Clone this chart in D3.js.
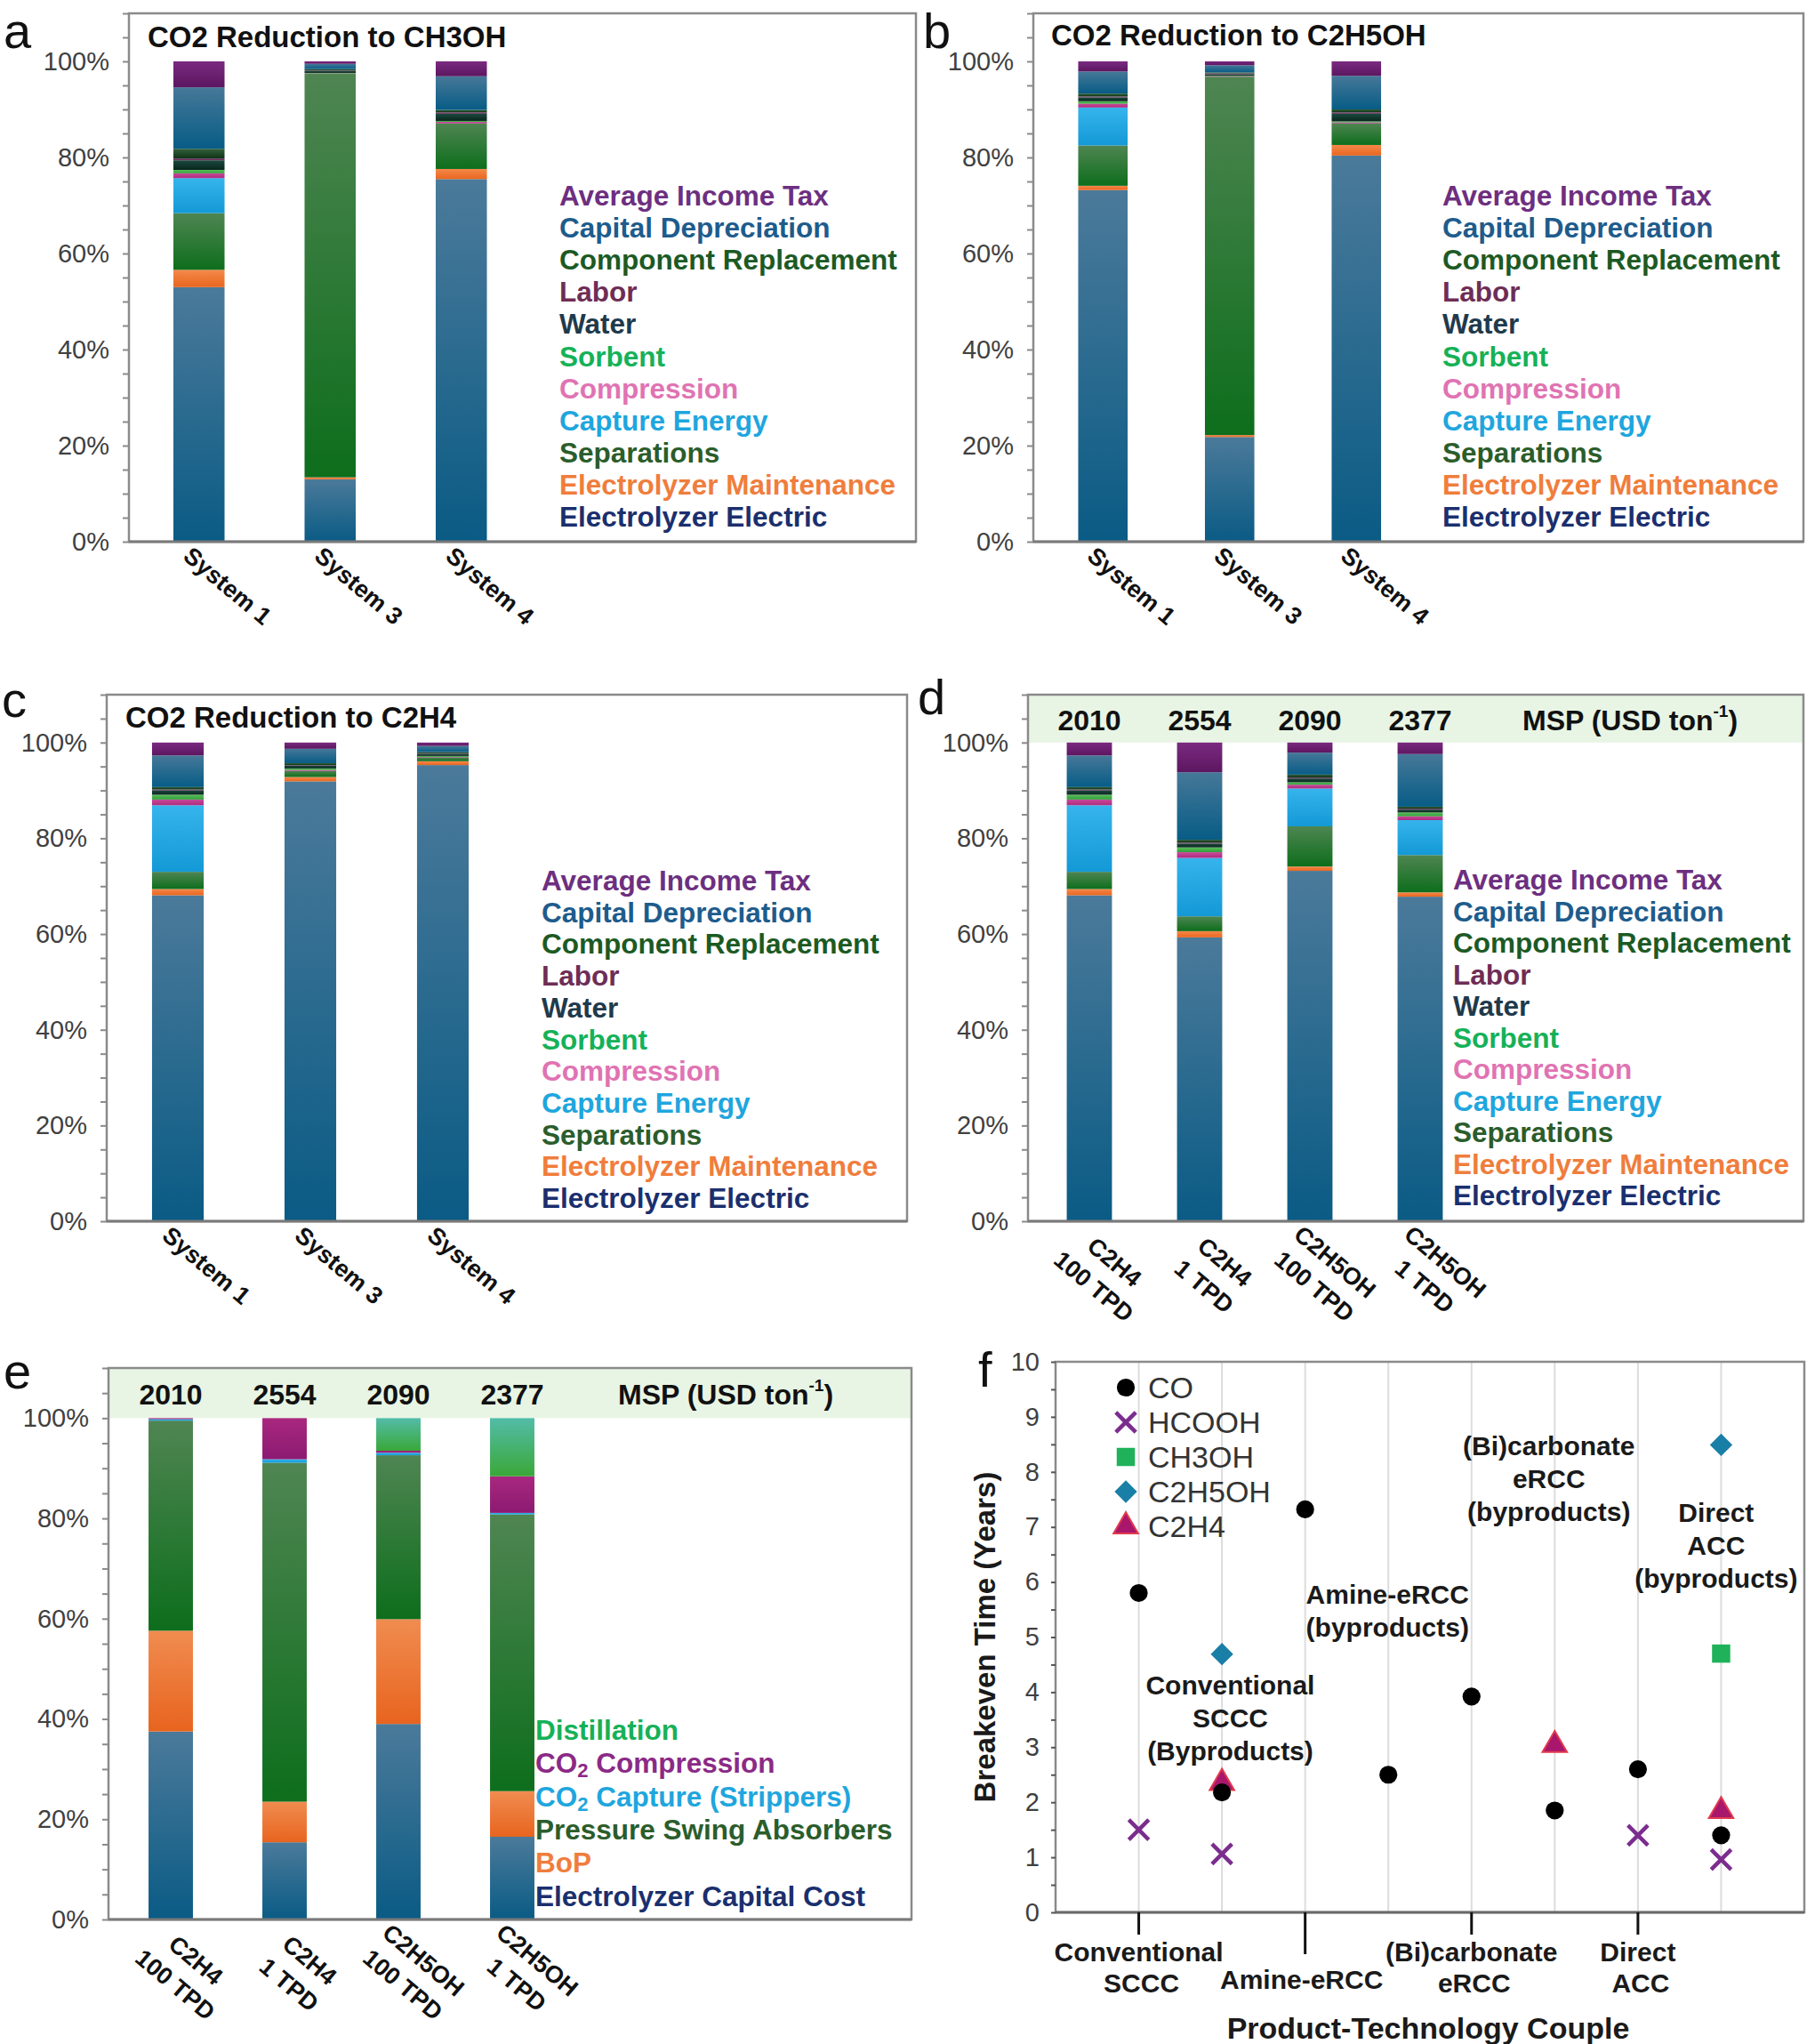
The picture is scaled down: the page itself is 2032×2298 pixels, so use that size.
<!DOCTYPE html>
<html><head><meta charset="utf-8">
<script src="https://cdn.jsdelivr.net/npm/d3@7"></script>
<style>
body{margin:0;background:#fff}
svg{display:block}
text{font-family:"Liberation Sans",Arial,Helvetica,sans-serif}
</style>
</head><body>
<svg id="fig" width="2032" height="2298"></svg>
<script>
// ---------------- DATA ----------------
// Operating-cost breakdown series (stack order bottom -> top)
const costSeries = ["Electrolyzer Electric","Electrolyzer Maintenance","Separations","Capture Energy","Compression","Sorbent","Water","Labor","Component Replacement","Capital Depreciation","Average Income Tax"];
const systemLabels = ["System 1","System 3","System 4"];
// shares (%) per system, in costSeries order
const ch3ohShares = [
  [53.0,3.6,11.8,7.3,1.0,0.7,2.0,0.4,2.0,12.8,5.4],
  [13.0,0.4,84.0,0.0,0.1,0.1,0.4,0.1,0.3,1.1,0.5],
  [75.5,2.1,9.5,0.0,0.3,0.2,1.5,0.3,0.5,7.0,3.1]
];
const c2h5ohShares = [
  [73.2,0.9,8.4,7.9,0.8,0.5,0.8,0.2,0.6,4.6,2.1],
  [21.8,0.4,74.6,0.0,0.1,0.1,0.3,0.2,0.2,1.5,0.8],
  [80.4,2.2,4.5,0.0,0.2,0.2,1.6,0.3,0.6,7.0,3.0]
];
const c2h4Shares = [
  [68.1,1.3,3.6,13.9,1.2,1.0,0.9,0.2,0.5,6.6,2.7],
  [91.9,0.9,1.3,0.0,0.2,0.3,0.6,0.1,0.4,3.0,1.3],
  [95.3,0.8,0.8,0.0,0.1,0.2,0.4,0.1,0.3,1.3,0.7]
];
const scaleLabels = [["C2H4","100 TPD"],["C2H4","1 TPD"],["C2H5OH","100 TPD"],["C2H5OH","1 TPD"]];
const mspValues = [2010,2554,2090,2377];
const scaleShares = [
  [68.1,1.3,3.6,13.9,1.2,1.0,0.9,0.2,0.5,6.6,2.7],
  [59.3,1.3,3.1,12.2,1.2,1.0,0.8,0.2,0.6,14.1,6.2],
  [73.2,0.9,8.4,7.9,0.8,0.5,0.8,0.2,0.6,4.6,2.1],
  [67.8,0.9,7.8,7.3,0.8,0.8,0.6,0.2,0.4,11.0,2.4]
];
// Capital-cost breakdown (panel e)
const capexSeries = ["Electrolyzer Capital Cost","BoP","Pressure Swing Absorbers","CO2 Capture (Strippers)","CO2 Compression","Distillation"];
const capexShares = [
  [37.5,20.1,41.9,0.3,0.2,0.0],
  [15.4,8.1,67.6,0.7,8.2,0.0],
  [39.0,20.9,32.7,0.5,0.4,6.5],
  [16.5,9.1,55.2,0.3,7.3,11.6]
];
const percentTicks = [0,20,40,60,80,100];
// Breakeven time (panel f): [position, years]
const fCategoryPositions = [1,3,5,7];
const fCategoryNames = [["Conventional","SCCC"],["Amine-eRCC"],["(Bi)carbonate","eRCC"],["Direct","ACC"]];
const fSeriesNames = ["CO","HCOOH","CH3OH","C2H5OH","C2H4"];
const coPoints = [[1,5.8],[2,2.18],[3,7.32],[4,2.5],[5,3.92],[6,1.85],[7,2.6],[8,1.4]];
const hcoohPoints = [[1,1.5],[2,1.06],[7,1.4],[8,0.96]];
const ch3ohPoints = [[8,4.7]];
const c2h5ohPoints = [[2,4.69],[8,8.49]];
const c2h4Points = [[2,2.35],[6,3.04],[8,1.84]];
const fAnnotationText = [["Conventional","SCCC","(Byproducts)"],["Amine-eRCC","(byproducts)"],["(Bi)carbonate","eRCC","(byproducts)"],["Direct","ACC","(byproducts)"]];
const fAnnotationAt = [[2.1,4.14],[3.99,5.78],[5.93,8.48],[7.94,7.27]];

// ---------------- STYLE ----------------
const FONT = '"Liberation Sans",Arial,Helvetica,sans-serif';
const costGrad = [["#4b7a9a","#0a5b85"],["#f4894a","#e9661f"],["#4f8552","#0d6e1c"],["#36b4ec","#1399d6"],["#c64a98","#b02a80"],["#5cc05a","#2f9e3a"],["#1b4a40","#08261c"],["#7a4070","#5a2a50"],["#35603a","#0d3416"],["#467898","#075c86"],["#7a2a80","#5c1660"]];
const costLegendColors = ["#1b2f6e","#f07d3c","#2b5d2b","#1fa6de","#e073b3","#16b158","#1f3a4c","#6e2d55","#1c5a24","#1e5c8c","#6d2f80"];
const capexGrad = [["#4b7a9a","#0a5b85"],["#f08c50","#e8641e"],["#4f8552","#0d6e1c"],["#36b4ec","#1399d6"],["#a8287e","#8c1a72"],["#52bca8","#3aa838"]];
const capexLegendColors = ["#1b2f6e","#f07d3c","#2b5d2b","#1fa6de","#8b2a86","#16b158"];
const FRAME = "#8a8a8a";

const svg = d3.select("#fig");
const defs = svg.append("defs");
function addGrad(id, c){
  const g = defs.append("linearGradient").attr("id",id).attr("x1",0).attr("y1",0).attr("x2",0).attr("y2",1);
  g.append("stop").attr("offset","0%").attr("stop-color",c[0]);
  g.append("stop").attr("offset","100%").attr("stop-color",c[1]);
}
costGrad.forEach((c,i)=>addGrad("cg"+i,c));
capexGrad.forEach((c,i)=>addGrad("xg"+i,c));

function panelLetter(ch,x,y){
  svg.append("text").attr("x",x).attr("y",y).attr("font-size",56).attr("fill","#111").text(ch);
}

function addLabelWithSub(sel, label){
  if(label.startsWith("CO2")){
    sel.append("tspan").text("CO");
    sel.append("tspan").attr("font-size","0.7em").attr("dy",8).text("2");
    sel.append("tspan").attr("dy",-8).text(label.slice(3));
  } else sel.text(label);
}

function drawStacked(cfg){
  const g = svg.append("g");
  const y = d3.scaleLinear().domain([0,110]).range([cfg.bottom, cfg.top]);
  const n = cfg.shares.length;
  const x = d3.scaleBand().domain(d3.range(n))
    .range([cfg.start, cfg.start + n*cfg.step])
    .paddingInner(1-cfg.ratio).paddingOuter((1-cfg.ratio)/2);

  if(cfg.msp){
    g.append("rect").attr("x",cfg.left).attr("y",cfg.top).attr("width",cfg.right-cfg.left)
      .attr("height",y(100)-cfg.top).attr("fill","#e8f5e4");
  }
  g.append("rect").attr("x",cfg.left).attr("y",cfg.top).attr("width",cfg.right-cfg.left)
    .attr("height",cfg.bottom-cfg.top).attr("fill","none").attr("stroke",FRAME).attr("stroke-width",2.5);

  const rows = cfg.shares.map((r,i)=>{const o={i:i}; cfg.series.forEach((s,j)=>o[s]=r[j]); return o;});
  const stacked = d3.stack().keys(cfg.series)(rows);
  g.selectAll("g.layer").data(stacked).join("g").attr("class","layer")
    .attr("fill",(d,j)=>`url(#${cfg.grad}${j})`)
    .selectAll("rect").data(d=>d).join("rect")
    .attr("x",d=>x(d.data.i)).attr("width",x.bandwidth())
    .attr("y",d=>y(d[1])).attr("height",d=>Math.max(0,y(d[0])-y(d[1])));

  // minor ticks
  const ax1 = g.append("g").attr("transform",`translate(${cfg.left},0)`)
    .call(d3.axisLeft(y).tickValues(d3.range(0,111,5)).tickSize(7).tickFormat(""));
  ax1.select(".domain").remove();
  ax1.selectAll("line").attr("stroke",FRAME).attr("stroke-width",2);
  // labels
  const ax2 = g.append("g").attr("transform",`translate(${cfg.left},0)`)
    .call(d3.axisLeft(y).tickValues(percentTicks).tickSize(0).tickPadding(22).tickFormat(d=>d+"%"));
  ax2.select(".domain").remove();
  ax2.selectAll("text").attr("font-size",29).attr("font-family",FONT).attr("fill","#404040");
  // bottom axis line
  g.append("line").attr("x1",cfg.left).attr("x2",cfg.right).attr("y1",cfg.bottom).attr("y2",cfg.bottom)
    .attr("stroke","#7a7a7a").attr("stroke-width",3);

  // category labels
  cfg.cats.forEach((c,i)=>{
    const cx = x(i) + x.bandwidth()/2;
    if(typeof c === "string"){
      g.append("text").attr("transform",`translate(${cx+32},${cfg.bottom+50}) rotate(40)`)
        .attr("text-anchor","middle").attr("dominant-baseline","central")
        .attr("font-size",27).attr("font-weight","bold").attr("fill","#111").text(c);
    } else {
      const t = g.append("text").attr("transform",`translate(${cx+28},${cfg.bottom+46}) rotate(40)`)
        .attr("text-anchor","middle").attr("dominant-baseline","central")
        .attr("font-size",27).attr("font-weight","bold").attr("fill","#111");
      c.forEach((line,k)=>t.append("tspan").attr("x",0).attr("y",k*36).text(line));
    }
  });

  if(cfg.title){
    g.append("text").attr("x",cfg.titleX).attr("y",cfg.titleY).attr("dominant-baseline","central")
      .attr("font-size",33).attr("font-weight","bold").attr("fill","#111").text(cfg.title);
  }
  if(cfg.msp){
    const my = (cfg.top + y(100))/2 + 2;
    cfg.msp.forEach((v,i)=>{
      g.append("text").attr("x",x(i)+x.bandwidth()/2).attr("y",my).attr("text-anchor","middle")
        .attr("dominant-baseline","central").attr("font-size",32).attr("font-weight","bold").attr("fill","#111").text(v);
    });
    const t = g.append("text").attr("x",cfg.mspX).attr("y",my).attr("dominant-baseline","central")
      .attr("font-size",32).attr("font-weight","bold").attr("fill","#111");
    t.append("tspan").text("MSP (USD ton");
    t.append("tspan").attr("font-size",19).attr("dy",-11).text("-1");
    t.append("tspan").attr("dy",11).text(")");
  }
  // legend (top -> bottom = reversed stack order)
  const items = cfg.series.map((s,j)=>({s:s,c:cfg.legendColors[j]})).reverse();
  items.forEach((it,k)=>{
    const t = g.append("text").attr("x",cfg.legendX).attr("y",cfg.legendY0 + k*cfg.legendDy)
      .attr("dominant-baseline","central").attr("font-size",31.5).attr("font-weight","bold").attr("fill",it.c);
    addLabelWithSub(t, it.s);
  });
}

// Panel a
drawStacked({left:145,right:1030,top:15,bottom:609,start:150,step:147.5,ratio:0.39,
  shares:ch3ohShares,series:costSeries,grad:"cg",cats:systemLabels,
  title:"CO2 Reduction to CH3OH",titleX:166,titleY:41,
  legendX:629,legendY0:220,legendDy:36.1,legendColors:costLegendColors});
panelLetter("a",4,54);
// Panel b
drawStacked({left:1162,right:2028,top:15,bottom:609,start:1169,step:142.5,ratio:0.39,
  shares:c2h5ohShares,series:costSeries,grad:"cg",cats:systemLabels,
  title:"CO2 Reduction to C2H5OH",titleX:1182,titleY:39,
  legendX:1622,legendY0:220,legendDy:36.1,legendColors:costLegendColors});
panelLetter("b",1038,54);
// Panel c
drawStacked({left:120,right:1020,top:781,bottom:1373,start:125.5,step:149,ratio:0.39,
  shares:c2h4Shares,series:costSeries,grad:"cg",cats:systemLabels,
  title:"CO2 Reduction to C2H4",titleX:141,titleY:806,
  legendX:609,legendY0:990,legendDy:35.7,legendColors:costLegendColors});
panelLetter("c",2,806);
// Panel d
drawStacked({left:1156,right:2028,top:781,bottom:1373,start:1163,step:124,ratio:0.41,
  shares:scaleShares,series:costSeries,grad:"cg",cats:scaleLabels,msp:mspValues,mspX:1712,
  legendX:1634,legendY0:989,legendDy:35.5,legendColors:costLegendColors});
panelLetter("d",1032,803);
// Panel e
drawStacked({left:122,right:1025,top:1538,bottom:2158,start:128,step:128,ratio:0.39,
  shares:capexShares,series:capexSeries,grad:"xg",cats:scaleLabels,msp:mspValues,mspX:695,
  legendX:602,legendY0:1945,legendDy:37.3,legendColors:capexLegendColors});
panelLetter("e",4,1561);

// Panel f
(function(){
  const L=1187,R=2029,T=1531,B=2150;
  const g = svg.append("g");
  const x = d3.scaleLinear().domain([0,9]).range([L,R]);
  const y = d3.scaleLinear().domain([0,10]).range([B,T]);
  // grid
  g.selectAll("line.grid").data(d3.range(1,9)).join("line").attr("class","grid")
    .attr("x1",d=>x(d)).attr("x2",d=>x(d)).attr("y1",y(0)).attr("y2",y(10))
    .attr("stroke","#dcdcdc").attr("stroke-width",2);
  g.append("rect").attr("x",L).attr("y",T).attr("width",R-L).attr("height",B-T)
    .attr("fill","none").attr("stroke",FRAME).attr("stroke-width",2.5);
  g.append("line").attr("x1",L).attr("x2",R).attr("y1",B).attr("y2",B).attr("stroke","#6a6a6a").attr("stroke-width",3);
  // y axis
  const ay1 = g.append("g").attr("transform",`translate(${L},0)`)
    .call(d3.axisLeft(y).tickValues(d3.range(0,10.01,0.5)).tickSize(5).tickFormat(""));
  ay1.select(".domain").remove();
  ay1.selectAll("line").attr("stroke","#555").attr("stroke-width",2);
  const ay2 = g.append("g").attr("transform",`translate(${L},0)`)
    .call(d3.axisLeft(y).tickValues(d3.range(0,11)).tickSize(0).tickPadding(18));
  ay2.select(".domain").remove();
  ay2.selectAll("text").attr("font-size",29).attr("font-family",FONT).attr("fill","#404040");
  // x ticks and labels
  fCategoryPositions.forEach((p,i)=>{
    const lines = fCategoryNames[i];
    const len = lines.length===1 ? 47 : 25;
    g.append("line").attr("x1",x(p)).attr("x2",x(p)).attr("y1",B).attr("y2",B+len)
      .attr("stroke","#111").attr("stroke-width",3);
    const t = g.append("text").attr("text-anchor","middle").attr("dominant-baseline","central")
      .attr("font-size",30).attr("font-weight","bold").attr("fill","#1a1a1a");
    if(lines.length===1){
      t.append("tspan").attr("x",x(p)-4).attr("y",B+75).text(lines[0]);
    } else {
      lines.forEach((ln,k)=>t.append("tspan").attr("x",x(p)+(k?3:0)).attr("y",B+44+k*35).text(ln));
    }
  });
  g.append("text").attr("x",(L+R)/2-2).attr("y",2280).attr("text-anchor","middle").attr("dominant-baseline","central")
    .attr("font-size",34).attr("font-weight","bold").attr("fill","#1a1a1a").text("Product-Technology Couple");
  g.append("text").attr("transform",`translate(1107,${(T+B)/2}) rotate(-90)`).attr("text-anchor","middle")
    .attr("dominant-baseline","central").attr("font-size",33).attr("font-weight","bold").attr("fill","#1a1a1a")
    .text("Breakeven Time (Years)");
  // annotations
  fAnnotationText.forEach((lines,i)=>{
    const [ax,ayv] = fAnnotationAt[i];
    const t = g.append("text").attr("text-anchor","middle").attr("dominant-baseline","central")
      .attr("font-size",30).attr("font-weight","bold").attr("fill","#1a1a1a");
    lines.forEach((ln,k)=>t.append("tspan").attr("x",x(ax)).attr("y",y(ayv)+k*37).text(ln));
  });
  // markers
  const symTimes = d3.symbolTimes || d3.symbolCross;
  const styles = {
    CO:     {sym:d3.symbolCircle, size:320, fill:"#000", stroke:"none", sw:0, rot:0},
    HCOOH:  {sym:symTimes, size:330, fill:"none", stroke:"#7b2d8e", sw:4.5, rot:d3.symbolTimes?0:45},
    CH3OH:  {sym:d3.symbolSquare, size:420, fill:"#1fb25a", stroke:"none", sw:0, rot:0},
    C2H5OH: {sym:d3.symbolSquare, size:320, fill:"#1a7fa6", stroke:"none", sw:0, rot:45},
    C2H4:   {sym:d3.symbolTriangle, size:330, fill:"#a8176c", stroke:"#e23a4e", sw:2, rot:0}
  };
  const seriesData = {CO:coPoints,HCOOH:hcoohPoints,CH3OH:ch3ohPoints,C2H5OH:c2h5ohPoints,C2H4:c2h4Points};
  function marker(sel, name, px, py){
    const st = styles[name];
    sel.append("path").attr("d",d3.symbol().type(st.sym).size(st.size)())
      .attr("transform",`translate(${px},${py}) rotate(${st.rot})`)
      .attr("fill",st.fill).attr("stroke",st.stroke).attr("stroke-width",st.sw);
  }
  ["C2H5OH","CH3OH","C2H4","CO","HCOOH"].forEach(name=>{
    seriesData[name].forEach(p=>marker(g,name,x(p[0]),y(p[1])));
  });
  // legend
  fSeriesNames.forEach((name,k)=>{
    const ly = 1560 + k*39;
    marker(g,name,1266,ly);
    g.append("text").attr("x",1291).attr("y",ly).attr("dominant-baseline","central")
      .attr("font-size",34).attr("fill","#333").text(name);
  });
  panelLetter("f",1100,1559);
})();
</script>
</body></html>
